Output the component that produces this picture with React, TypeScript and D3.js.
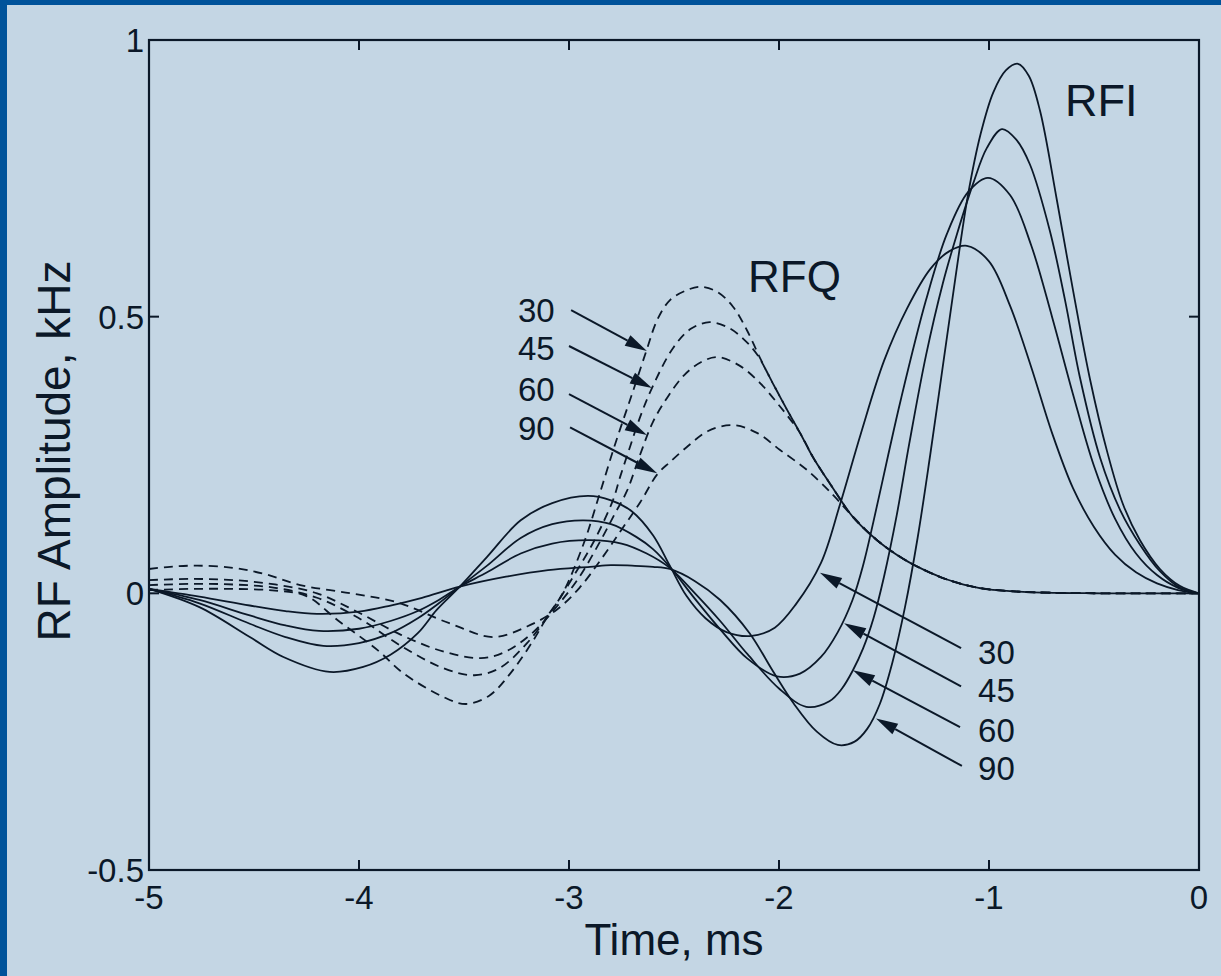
import React, { useEffect } from "react";
import * as d3 from "d3";

// RF pulse shapes, time in ms, amplitude in kHz
const xTicks = [-5, -4, -3, -2, -1, 0];
const yTicks = [-0.5, 0, 0.5, 1];
const angles = ["30", "45", "60", "90"];

// in-phase (solid)
const rfi30: [number, number][] = [
  [-5, 0.008], [-4.76, -0.025], [-4.52, -0.079], [-4.36, -0.115], [-4.14, -0.142],
  [-3.98, -0.133], [-3.85, -0.111], [-3.72, -0.072], [-3.63, -0.03], [-3.52, 0.012],
  [-3.39, 0.066], [-3.23, 0.132], [-3.08, 0.163], [-2.91, 0.176], [-2.8, 0.168],
  [-2.7, 0.148], [-2.6, 0.105], [-2.52, 0.05], [-2.44, -0.005], [-2.35, -0.045],
  [-2.25, -0.07], [-2.13, -0.077], [-2.02, -0.062], [-1.92, -0.02], [-1.8, 0.055],
  [-1.71, 0.16], [-1.61, 0.289], [-1.5, 0.42], [-1.39, 0.515], [-1.28, 0.586],
  [-1.19, 0.618], [-1.105, 0.628], [-1.0, 0.6], [-0.9, 0.52], [-0.8, 0.41],
  [-0.7, 0.29], [-0.6, 0.19], [-0.5, 0.12], [-0.4, 0.07], [-0.3, 0.038],
  [-0.2, 0.018], [-0.1, 0.006], [0, 0],
];
const rfi45: [number, number][] = [
  [-5, 0.008], [-4.76, -0.018], [-4.52, -0.055], [-4.35, -0.079], [-4.17, -0.095],
  [-4.0, -0.09], [-3.85, -0.072], [-3.72, -0.045], [-3.62, -0.018], [-3.52, 0.012],
  [-3.39, 0.05], [-3.23, 0.1], [-3.08, 0.125], [-2.93, 0.132], [-2.8, 0.125],
  [-2.68, 0.102], [-2.6, 0.08], [-2.52, 0.048], [-2.4, -0.01], [-2.28, -0.065],
  [-2.15, -0.118], [-2.01, -0.15], [-1.9, -0.145], [-1.8, -0.115], [-1.72, -0.07],
  [-1.65, -0.012], [-1.6, 0.05], [-1.55, 0.13], [-1.48, 0.25], [-1.42, 0.35],
  [-1.3, 0.53], [-1.2, 0.65], [-1.1, 0.725], [-1.005, 0.751], [-0.9, 0.72],
  [-0.8, 0.63], [-0.7, 0.5], [-0.6, 0.36], [-0.5, 0.23], [-0.4, 0.135],
  [-0.3, 0.072], [-0.2, 0.033], [-0.1, 0.01], [0, 0],
];
const rfi60: [number, number][] = [
  [-5, 0.008], [-4.76, -0.012], [-4.52, -0.04], [-4.35, -0.058], [-4.19, -0.068],
  [-4.0, -0.064], [-3.85, -0.05], [-3.72, -0.032], [-3.62, -0.012], [-3.52, 0.012],
  [-3.39, 0.038], [-3.23, 0.072], [-3.08, 0.09], [-2.9, 0.096], [-2.75, 0.09],
  [-2.63, 0.072], [-2.52, 0.046], [-2.4, 0.0], [-2.28, -0.05], [-2.15, -0.11],
  [-2.0, -0.172], [-1.87, -0.205], [-1.76, -0.195], [-1.7, -0.172], [-1.648, -0.139],
  [-1.6, -0.1], [-1.55, -0.045], [-1.5, 0.03], [-1.44, 0.14], [-1.38, 0.27],
  [-1.3, 0.43], [-1.22, 0.56], [-1.152, 0.65], [-1.076, 0.74], [-1.01, 0.805],
  [-0.938, 0.839], [-0.87, 0.82], [-0.805, 0.775], [-0.71, 0.655], [-0.638, 0.53],
  [-0.567, 0.39], [-0.471, 0.245], [-0.376, 0.151], [-0.281, 0.088], [-0.186, 0.04],
  [-0.09, 0.01], [0, 0],
];
const rfi90: [number, number][] = [
  [-5, 0.008], [-4.76, -0.006], [-4.52, -0.022], [-4.35, -0.032], [-4.2, -0.037],
  [-4.0, -0.033], [-3.85, -0.022], [-3.7, -0.008], [-3.52, 0.012], [-3.3, 0.03],
  [-3.1, 0.042], [-2.9, 0.048], [-2.8, 0.051], [-2.7, 0.05], [-2.6, 0.048],
  [-2.52, 0.044], [-2.4, 0.022], [-2.28, -0.012], [-2.14, -0.072], [-2.03, -0.14],
  [-1.93, -0.199], [-1.82, -0.25], [-1.72, -0.274], [-1.64, -0.268], [-1.58, -0.245],
  [-1.52, -0.2], [-1.46, -0.125], [-1.4, -0.025], [-1.34, 0.1], [-1.28, 0.25],
  [-1.22, 0.41], [-1.16, 0.57], [-1.1, 0.72], [-1.04, 0.83], [-0.98, 0.905],
  [-0.92, 0.945], [-0.862, 0.957], [-0.81, 0.935], [-0.757, 0.872], [-0.676, 0.709],
  [-0.6, 0.548], [-0.519, 0.387], [-0.438, 0.257], [-0.362, 0.161], [-0.281, 0.096],
  [-0.186, 0.044], [-0.09, 0.013], [0, 0],
];

// quadrature (dashed); they share one tail after about -2 ms
const rfqTail: [number, number][] = [
  [-1.9, 0.29], [-1.838, 0.246], [-1.743, 0.19], [-1.648, 0.138], [-1.533, 0.096],
  [-1.424, 0.066], [-1.329, 0.046], [-1.2, 0.025], [-1.05, 0.01], [-0.9, 0.004],
  [-0.7, 0.001], [-0.4, 0], [0, 0],
];
const rfq30: [number, number][] = [
  [-5, 0.006], [-4.8, 0.008], [-4.6, 0.008], [-4.4, 0.005], [-4.25, -0.005],
  [-4.1, -0.049], [-3.91, -0.103], [-3.79, -0.144], [-3.6, -0.187], [-3.49, -0.2],
  [-3.38, -0.185], [-3.28, -0.145], [-3.17, -0.085], [-3.1, -0.04], [-3.03, 0.0],
  [-2.93, 0.09], [-2.853, 0.181], [-2.78, 0.27], [-2.7, 0.36], [-2.63, 0.44],
  [-2.58, 0.494], [-2.519, 0.53], [-2.438, 0.548], [-2.376, 0.554], [-2.295, 0.545],
  [-2.219, 0.518], [-2.152, 0.475], [-2.09, 0.425], [-2.03, 0.38], [-1.962, 0.332],
];
const rfq45: [number, number][] = [
  [-5, 0.015], [-4.8, 0.017], [-4.6, 0.016], [-4.4, 0.01], [-4.2, -0.008],
  [-4.0, -0.045], [-3.8, -0.095], [-3.6, -0.135], [-3.45, -0.148], [-3.33, -0.135],
  [-3.2, -0.09], [-3.08, -0.03], [-2.98, 0.03], [-2.88, 0.095], [-2.79, 0.169],
  [-2.757, 0.21], [-2.71, 0.264], [-2.662, 0.318], [-2.605, 0.371], [-2.505, 0.443],
  [-2.42, 0.478], [-2.33, 0.49], [-2.24, 0.48], [-2.17, 0.46], [-2.105, 0.432],
  [-2.03, 0.38], [-1.962, 0.332],
];
const rfq60: [number, number][] = [
  [-5, 0.024], [-4.8, 0.026], [-4.6, 0.024], [-4.4, 0.016], [-4.2, 0.0],
  [-4.0, -0.035], [-3.8, -0.075], [-3.6, -0.105], [-3.42, -0.117], [-3.3, -0.105],
  [-3.17, -0.07], [-3.05, -0.02], [-2.95, 0.03], [-2.85, 0.095], [-2.78, 0.145],
  [-2.724, 0.185], [-2.662, 0.25], [-2.6, 0.31], [-2.53, 0.355], [-2.45, 0.395],
  [-2.37, 0.418], [-2.295, 0.427], [-2.19, 0.412], [-2.09, 0.38], [-2.0, 0.34],
  [-1.962, 0.322],
];
const rfq90: [number, number][] = [
  [-5, 0.044], [-4.9, 0.048], [-4.77, 0.05], [-4.6, 0.046], [-4.45, 0.035],
  [-4.28, 0.015], [-4.04, 0.0], [-3.82, -0.016], [-3.57, -0.054], [-3.36, -0.079],
  [-3.2, -0.06], [-3.06, -0.03], [-2.95, 0.01], [-2.85, 0.06], [-2.75, 0.115],
  [-2.66, 0.165], [-2.58, 0.215], [-2.52, 0.237], [-2.44, 0.264], [-2.34, 0.293],
  [-2.22, 0.304], [-2.105, 0.29], [-1.995, 0.259], [-1.867, 0.223], [-1.743, 0.178],
  [-1.676, 0.15], [-1.6, 0.12],
];

const rfiSeries = [rfi30, rfi45, rfi60, rfi90];
const rfqSeries = [rfq30, rfq45, rfq60, rfq90];

// annotation anchors in data units
const rfqLabelAt: [number, number][] = [[-3.243, 0.49], [-3.243, 0.422], [-3.243, 0.348], [-3.243, 0.277]];
const rfqArrowFrom: [number, number][] = [[-2.99, 0.512], [-3.0, 0.447], [-3.0, 0.36], [-2.995, 0.3]];
const rfqArrowTo: [number, number][] = [[-2.629, 0.438], [-2.605, 0.371], [-2.629, 0.286], [-2.58, 0.217]];
const rfiLabelAt: [number, number][] = [[-1.052, -0.128], [-1.052, -0.197], [-1.052, -0.269], [-1.052, -0.338]];
const rfiArrowFrom: [number, number][] = [[-1.133, -0.099], [-1.133, -0.168], [-1.138, -0.242], [-1.129, -0.312]];
const rfiArrowTo: [number, number][] = [[-1.805, 0.037], [-1.69, -0.054], [-1.648, -0.139], [-1.538, -0.226]];

const width = 1221;
const height = 976;
const ink = "#0b1828";
const font = "'Liberation Sans', Arial, Helvetica, sans-serif";

export default function App() {
  useEffect(() => {
    document.body.style.margin = "0";
  }, []);

  const x = d3.scaleLinear().domain([-5, 0]).range([149, 1199]);
  const y = d3.scaleLinear().domain([-0.5, 1]).range([870, 40]);

  const line = d3
    .line<[number, number]>()
    .x((d) => x(d[0]))
    .y((d) => y(d[1]))
    .curve(d3.curveCatmullRom.alpha(0.5));

  // each dashed curve runs on into the shared tail
  const withTail = (s: [number, number][]) => [
    ...s,
    ...rfqTail.filter((p) => p[0] > s[s.length - 1][0]),
  ];

  const tickLen = 10;

  const arrow = (from: [number, number], to: [number, number], key: string) => {
    const x1 = x(from[0]);
    const y1 = y(from[1]);
    const x2 = x(to[0]);
    const y2 = y(to[1]);
    const ang = Math.atan2(y2 - y1, x2 - x1);
    const len = 22;
    const half = 6;
    const bx = x2 - len * Math.cos(ang);
    const by = y2 - len * Math.sin(ang);
    const px = -Math.sin(ang) * half;
    const py = Math.cos(ang) * half;
    return (
      <g key={key}>
        <line x1={x1} y1={y1} x2={bx} y2={by} stroke={ink} strokeWidth={2} />
        <polygon
          points={`${x2},${y2} ${bx + px},${by + py} ${bx - px},${by - py}`}
          fill={ink}
        />
      </g>
    );
  };

  return (
    <svg width={width} height={height} style={{ display: "block" }} fontFamily={font}>
      <rect x={0} y={0} width={width} height={height} fill="#c4d6e4" />
      <rect x={0} y={0} width={width} height={5} fill="#00539a" />
      <rect x={0} y={0} width={7} height={height} fill="#00539a" />

      {/* curves */}
      {rfiSeries.map((s, i) => (
        <path key={"i" + i} d={line(s) || ""} fill="none" stroke={ink} strokeWidth={1.8} />
      ))}
      {rfqSeries.map((s, i) => (
        <path
          key={"q" + i}
          d={line(withTail(s)) || ""}
          fill="none"
          stroke={ink}
          strokeWidth={1.8}
          strokeDasharray="9 6"
        />
      ))}

      {/* axes box and ticks */}
      <rect x={149} y={40} width={1050} height={830} fill="none" stroke={ink} strokeWidth={2.2} />
      {xTicks.map((t) => (
        <g key={"xt" + t}>
          <line x1={x(t)} x2={x(t)} y1={870} y2={870 - tickLen} stroke={ink} strokeWidth={2} />
          <line x1={x(t)} x2={x(t)} y1={40} y2={40 + tickLen} stroke={ink} strokeWidth={2} />
          <text x={x(t)} y={909} fontSize={33} textAnchor="middle" fill={ink}>
            {t}
          </text>
        </g>
      ))}
      {yTicks.map((v) => (
        <g key={"yt" + v}>
          <line x1={149} x2={149 + tickLen} y1={y(v)} y2={y(v)} stroke={ink} strokeWidth={2} />
          <line x1={1199} x2={1199 - tickLen} y1={y(v)} y2={y(v)} stroke={ink} strokeWidth={2} />
          <text x={144} y={y(v) + 12} fontSize={33} textAnchor="end" fill={ink}>
            {v}
          </text>
        </g>
      ))}
      <text x={x(-2.5)} y={955} fontSize={44} textAnchor="middle" fill={ink}>
        Time, ms
      </text>
      <text
        transform={`translate(70, ${y(0.25) - 4}) rotate(-90)`}
        fontSize={46}
        textAnchor="middle"
        fill={ink}
      >
        RF Amplitude, kHz
      </text>

      {/* annotations */}
      <text x={748} y={292} fontSize={44} fill={ink}>RFQ</text>
      <text x={1065} y={116} fontSize={45} fill={ink}>RFI</text>
      {angles.map((a, i) => (
        <text key={"ql" + a} x={x(rfqLabelAt[i][0])} y={y(rfqLabelAt[i][1])} fontSize={33} fill={ink}>
          {a}
        </text>
      ))}
      {angles.map((a, i) => (
        <text key={"il" + a} x={x(rfiLabelAt[i][0])} y={y(rfiLabelAt[i][1])} fontSize={33} fill={ink}>
          {a}
        </text>
      ))}
      {angles.map((a, i) => arrow(rfqArrowFrom[i], rfqArrowTo[i], "qa" + a))}
      {angles.map((a, i) => arrow(rfiArrowFrom[i], rfiArrowTo[i], "ia" + a))}
    </svg>
  );
}
